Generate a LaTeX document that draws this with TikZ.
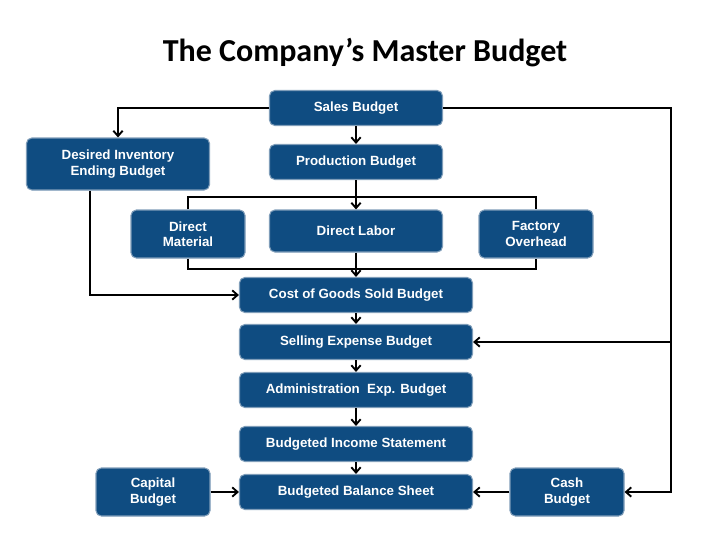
\documentclass[tikz,border=0pt]{standalone}
\usepackage{fontspec}
\setmainfont{Liberation Sans}
\newfontfamily\titlefont{Carlito}
\usetikzlibrary{calc,arrows.meta}
\definecolor{boxblue}{HTML}{0F4C81}
\definecolor{boxedge}{HTML}{7F9DB9}

\begin{document}
\begin{tikzpicture}[%
    x=0.75pt,y=-0.75pt,%
    budget/.style={draw=boxedge,line width=0.8pt,fill=boxblue,rounded corners=4pt,%
      text=white,font=\bfseries\fontsize{10}{11.5}\selectfont,align=center,%
      inner sep=0pt,minimum height=26.25pt},%
    wide/.style={budget,minimum width=174.75pt},%
    mid/.style={budget,minimum width=129.75pt},%
    small/.style={budget,minimum width=85.5pt,minimum height=36pt},%
    link/.style={line width=1.4pt,-{Straight Barb[length=4pt,width=7pt]}},%
    plain/.style={line width=1.4pt}%
  ]
  \useasboundingbox (0,0) rectangle (720,540);

  % Titre
  \node[font=\titlefont\bfseries\fontsize{24}{28}\selectfont] (title) at (365,53) {The Company’s Master Budget};

  %
  % Boîtes
  %
  \node[mid] (sales) at (356,108) {Sales Budget};
  \node[mid] (prod) at (356,162) {Production Budget};
  \node[budget,minimum width=137.25pt,minimum height=39pt] (inv) at (118,164) {Desired Inventory\\Ending Budget};
  \node[small] (dm) at (188,234) {Direct\\Material};
  \node[mid,minimum height=31.5pt] (dl) at (356,231) {Direct Labor};
  \node[small] (fo) at (536,234) {Factory\\Overhead};
  \node[wide] (cogs) at (356,295) {Cost of Goods Sold Budget};
  \node[wide] (sell) at (356,342) {Selling Expense Budget};
  \node[wide] (admin) at (356,390) {Administration~ Exp. Budget};
  \node[wide] (income) at (356,444) {Budgeted Income Statement};
  \node[wide] (balance) at (356,492) {Budgeted Balance Sheet};
  \node[small] (capital) at (153,492) {Capital\\Budget};
  \node[small] (cash) at (567,492) {Cash\\Budget};

  %
  % Points de passage
  %
  \coordinate (topsplit) at (356,197);
  \coordinate (botjoin) at (356,269);
  \coordinate (leftrail) at (671,342);

  %
  % Flèches
  %
  \draw[link] (sales.west) -| (inv.north);
  \draw[link] (sales.east) -| (671,492) -- (cash.east);
  \draw[link] (leftrail) -- (sell.east);
  \draw[link] (sales) -- (prod);
  \draw[plain] (prod.south) -- (topsplit);
  \draw[plain] (dm.north) |- (topsplit) -| (fo.north);
  \draw[link] (topsplit) -- (dl.north);
  \draw[plain] (dm.south) |- (botjoin) -| (fo.south);
  \draw[plain] (dl.south) -- (botjoin);
  \draw[link] (botjoin) -- (cogs.north);
  \draw[link] (inv.south -| 90,0) |- (cogs.west);
  \draw[link] (cogs) -- (sell);
  \draw[link] (sell) -- (admin);
  \draw[link] (admin) -- (income);
  \draw[link] (income) -- (balance);
  \draw[link] (capital) -- (balance);
  \draw[link] (cash) -- (balance);
\end{tikzpicture}
\end{document}
